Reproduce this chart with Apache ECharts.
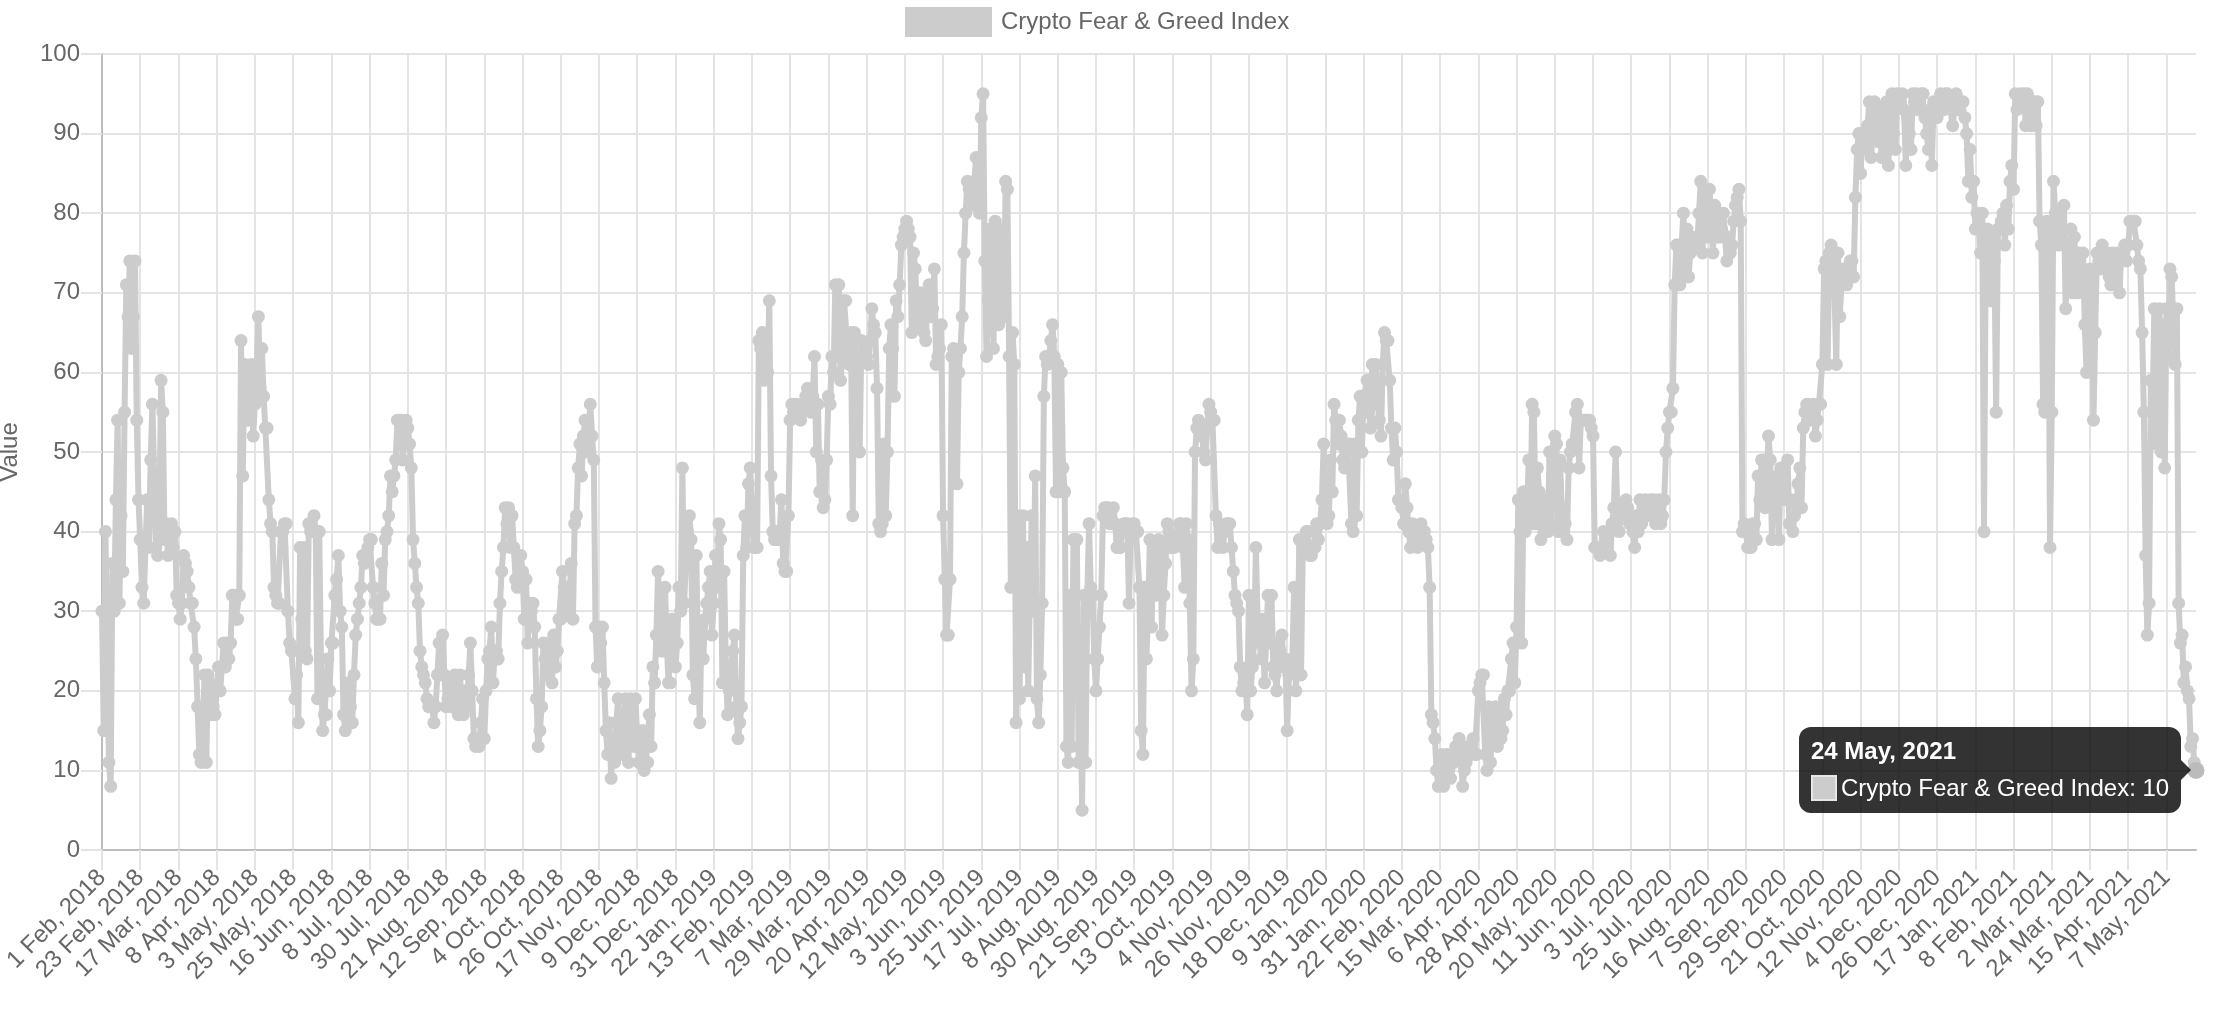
<!DOCTYPE html>
<html>
<head>
<meta charset="utf-8">
<title>Crypto Fear &amp; Greed Index</title>
<script src="https://cdn.jsdelivr.net/npm/echarts@6.0.0/dist/echarts.min.js"></script>
<style>
html, body { margin: 0; padding: 0; background: #fff; }
#chart { width: 2226px; height: 1022px; }
</style>
</head>
<body>
<div id="chart"></div>
<script>
// 数据：每日指数（2018-02-01 ~ 2021-05-24），按年份分组
var seriesName = 'Crypto Fear & Greed Index';
var startDate = '2018-02-01';
var endDate = '2021-05-24';
var missingDates = ['2018-04-14', '2018-04-15', '2018-04-16']; // 源数据缺失的日期
var monthNames = ['Jan', 'Feb', 'Mar', 'Apr', 'May', 'Jun', 'Jul', 'Aug', 'Sep', 'Oct', 'Nov', 'Dec'];

var values2018 = [
	30,15,40,24,11,8,36,30,44,54,31,42,35,55,71,67,74,63,67,74,
	54,44,39,33,31,38,44,38,49,56,47,38,37,41,59,55,39,41,37,40,
	41,38,40,32,31,29,31,37,36,35,33,31,31,28,24,18,12,11,15,22,
	11,22,21,17,18,17,20,23,20,23,26,23,26,24,26,32,32,29,29,32,
	64,47,61,58,54,57,61,52,56,60,67,58,63,57,53,53,44,41,40,33,
	32,31,31,40,40,41,41,30,26,25,25,19,22,16,38,29,38,25,24,41,
	40,40,42,40,19,40,24,15,17,17,24,20,26,26,32,34,37,30,28,17,
	15,18,21,18,16,22,27,29,31,33,37,36,37,38,39,39,33,31,29,29,
	29,36,32,39,40,42,47,45,47,49,54,54,54,49,51,54,53,51,48,39,
	36,33,31,25,23,22,21,19,18,18,18,16,18,22,26,22,27,22,18,19,
	21,18,18,22,19,17,22,18,17,20,18,22,26,20,14,13,14,13,16,19,
	14,20,24,25,28,21,25,25,24,31,35,38,43,41,43,38,42,38,34,33,
	34,37,35,29,34,26,31,30,31,28,19,13,15,18,26,24,22,26,26,21,
	27,23,25,29,29,35,33,30,33,32,36,29,41,42,48,51,47,52,54,50,
	52,56,52,49,28,23,28,26,28,21,15,12,16,9,14,11,16,19,14,12,
	15,19,14,11,19,14,13,19,14,11,13,15,10,11,11,17,13,23,21,27,
	35,27,25,25,33,26,21,21,29,26,23
];

var values2019 = [
	26,33,30,48,31,36,40,42,39,22, 19,37,24,16,28,24,29,31,33,35,
	27,31,37,33,41,39,21,35,23,17, 20,23,25,27,18,14,16,18,37,42,
	38,46,48,43,38,38,38,64,63,65, 59,63,60,69,47,40,39,40,39,40,
	44,36,35,35,42,54,56,55,56,56, 55,54,55,56,57,58,56,55,57,62,
	50,56,45,49,43,44,49,57,56,62, 60,71,62,71,59,62,69,69,63,61,
	65,42,65,59,62,50,64,62,63,62, 61,64,68,66,65,58,41,40,41,51,
	42,50,63,66,63,57,69,67,71,76, 77,78,79,78,77,65,75,73,67,66,
	70,67,65,64,69,71,67,68,73,61, 62,63,66,42,34,27,27,34,62,63,
	60,46,60,63,67,75,80,84,83,81, 82,84,87,83,80,92,95,74,62,69,
	78,74,63,79,70,66,78,75,67,84, 83,62,33,65,61,16,42,19,35,42,
	23,38,20,33,42,30,47,19,16,22, 31,57,62,61,62,64,66,62,45,61,
	45,60,48,45,13,11,32,13,39,32, 39,11,25,5,32,11,32,41,33,32,
	24,20,24,28,32,42,43,43,43,41, 41,43,41,38,38,38,40,41,41,41,
	31,40,41,41,40,40,33,15,12,33, 24,30,39,28,38,32,38,39,38,27,
	32,36,41,40,38,38,38,39,39,41, 41,38,33,41,39,31,20,24,50,53,
	54,53,52,50,49,53,56,55,54,54, 42,38,41,40,38,40,41,41,41,38,
	35,32,31,30,23,20,21,22,17,32, 20,23,26,38,29,27,24,29,21,27,
	32,26,32,23,22,20,26,25,27,23, 24,15,22,23,24,33,20,25,39,22,
	38,39,40,40,37
];

var values2020 = [
	37,38,38,41,39,41,44,51,43,41, 42,49,45,56,54,51,54,52,49,48,
	50,51,51,41,40,51,42,54,57,50, 57,57,59,55,53,61,56,61,57,54,
	52,61,65,64,64,59,53,49,53,50, 44,44,43,41,46,43,40,38,41,40,
	39,38,40,41,39,40,39,38,33,17, 16,14,10,8,11,12,8,10,12,10,
	9,12,11,13,12,14,12,8,10,11, 13,12,13,14,12,12,20,21,22,22,
	12,10,18,11,16,17,18,13,17,14, 15,19,17,20,20,24,26,21,28,44,
	40,26,45,40,42,49,41,56,55,41, 48,45,39,44,42,44,40,50,41,49,
	52,51,40,49,43,41,41,39,48,50, 51,51,55,56,48,54,54,54,54,54,
	54,53,52,38,38,38,37,38,40,39, 38,40,37,41,43,50,43,40,42,43,
	43,44,43,41,41,40,38,42,40,44, 41,43,44,42,43,44,43,44,41,42,
	44,41,42,44,50,53,55,55,58,71, 76,76,71,76,80,73,78,72,75,77,
	76,76,76,80,84,75,82,79,77,83, 80,75,81,77,80,77,78,80,77,74,
	77,75,76,79,81,82,83,79,40,41, 40,38,38,38,41,41,39,47,44,49,
	49,43,47,52,49,39,46,43,47,39, 48,45,48,44,49,41,44,40,42,43,
	46,48,43,53,55,56,56,54,55,56, 52,54,56,56,61,73,74,61,75,76,
	72,70,61,75,67,71,73,72,71,73, 74,74,72,82,88,90,85,90,90,88,
	91,94,87,90,94,92,89,93,87,90, 92,94,86,93,95,90,88,95,94,94,
	95,93,86,92,90,88,95,94,95,93, 94,95,95,92,90,88,93,86,94,93,
	92,94,95,93,93,95
];

var values2021 = [
	95,94,94,91,93,95,94,93,94,94, 92,90,84,88,82,84,78,80,79,75,
	80,40,75,78,73,69,77,74,55,78, 78,79,80,76,81,78,84,86,83,95,
	93,94,95,94,95,91,95,94,91,93, 94,91,94,79,76,56,55,79,78,38,
	55,84,80,78,76,80,78,81,68,76, 72,78,70,77,73,70,75,73,75,66,
	60,65,73,72,54,65,75,74,73,76, 74,75,75,72,71,75,73,71,75,70,
	75,75,76,74,76,79,79,79,79,76, 74,73,65,55,37,27,31,59,55,68,
	51,62,68,50,66,48,68,62,73,72, 66,61,68,31,26,27,21,23,20,19,
	13,14,11,10
];

var FONT = '"Liberation Sans", Arial, Helvetica, sans-serif';
var GRID_COLOR = '#e4e4e4';
var AXIS_COLOR = '#bdbdbd';

// 生成日期类目，如 "1 Feb, 2018"
function buildDates() {
	var list = [];
	var d = new Date(startDate + 'T00:00:00Z');
	var end = new Date(endDate + 'T00:00:00Z');
	while (d <= end) {
		var iso = d.toISOString().slice(0, 10);
		if (missingDates.indexOf(iso) < 0) {
			list.push(d.getUTCDate() + ' ' + monthNames[d.getUTCMonth()] + ', ' + d.getUTCFullYear());
		}
		d.setUTCDate(d.getUTCDate() + 1);
	}
	return list;
}

var dates = buildDates();
var values = values2018.concat(values2019, values2020, values2021);
if (dates.length !== values.length) {
	throw new Error('length mismatch: ' + dates.length + ' dates vs ' + values.length + ' values');
}
var lastIndex = values.length - 1;

var myChart = echarts.init(document.getElementById('chart'));
var option = {
	animation: false,
	textStyle: { fontFamily: FONT },
	legend: {
		top: 2,
		left: 900,
		selectedMode: false,
		itemWidth: 87,
		itemHeight: 30,
		data: [{ name: seriesName, icon: 'rect', itemStyle: { color: '#cccccc', borderWidth: 0 } }],
		textStyle: { color: '#666', fontSize: 24, fontFamily: FONT, padding: [0, 0, 0, 4] }
	},
	// 固定绘图区，不让轴名挤压网格
	grid: { left: 102, right: 30, top: 54, bottom: 172, outerBoundsMode: 'none' },
	tooltip: {
		trigger: 'item',
		triggerOn: 'none',
		alwaysShowContent: true,
		transitionDuration: 0,
		backgroundColor: 'rgba(0,0,0,0.8)',
		borderWidth: 0,
		padding: [12, 12],
		extraCssText: 'border-radius:12px;box-shadow:none;',
		textStyle: { color: '#fff', fontSize: 24, fontFamily: FONT },
		position: function(point, params, dom, rect, size) {
			// 放在点的左侧，垂直居中
			return [point[0] - size.contentSize[0] - 15, point[1] - size.contentSize[1] / 2];
		},
		formatter: function(p) {
			return '<div style="font-weight:bold;line-height:24px;margin-bottom:12px">' + p.name + '</div>'
				+ '<div style="line-height:26px;white-space:nowrap">'
				+ '<span style="display:inline-block;vertical-align:top;width:26px;height:26px;box-sizing:border-box;border:2px solid #e6e6e6;background:#cccccc;margin-right:4px"></span>'
				+ p.seriesName + ': ' + p.value + '</div>'
				+ '<div style="position:absolute;right:-10px;top:50%;margin-top:-10px;width:0;height:0;border-top:10px solid transparent;border-bottom:10px solid transparent;border-left:10px solid rgba(0,0,0,0.8)"></div>';
		}
	},
	xAxis: {
		type: 'category',
		data: dates,
		boundaryGap: false,
		axisLine: { lineStyle: { color: AXIS_COLOR, width: 2 } },
		axisTick: { show: true, interval: 21, length: 20, lineStyle: { color: GRID_COLOR, width: 2 } },
		axisLabel: { interval: 21, rotate: 45, color: '#666', fontSize: 24, margin: 24, fontFamily: FONT },
		splitLine: { show: true, interval: 21, lineStyle: { color: GRID_COLOR, width: 2 } }
	},
	yAxis: {
		type: 'value',
		min: 0,
		max: 100,
		interval: 10,
		name: 'Value',
		nameLocation: 'middle',
		nameGap: 80,
		nameTextStyle: { color: '#666', fontSize: 24, fontFamily: FONT },
		axisLine: { show: true, lineStyle: { color: AXIS_COLOR, width: 2 } },
		axisTick: { show: true, length: 21, lineStyle: { color: GRID_COLOR, width: 2 } },
		axisLabel: { color: '#666', fontSize: 24, margin: 22, fontFamily: FONT },
		splitLine: { lineStyle: { color: GRID_COLOR, width: 2 } }
	},
	series: [{
		name: seriesName,
		type: 'line',
		data: values,
		symbol: 'circle',
		symbolSize: 13,
		showSymbol: true,
		showAllSymbol: true,
		lineStyle: { color: '#cccccc', width: 6 },
		itemStyle: { color: '#cccccc' },
		emphasis: { disabled: true },
		markPoint: {
			silent: true,
			symbol: 'circle',
			symbolSize: 17,
			itemStyle: { color: '#bbbbbb' },
			label: { show: false },
			data: [{ coord: [dates[lastIndex], values[lastIndex]] }]
		}
	}]
};
myChart.setOption(option);

// 坐标原点处的轴线延伸（与刻度同长）
var origin = myChart.convertToPixel({ gridIndex: 0 }, [0, 0]);
myChart.setOption({
	graphic: [
		{ type: 'line', silent: true, shape: { x1: origin[0] - 21, y1: origin[1], x2: origin[0], y2: origin[1] }, style: { stroke: AXIS_COLOR, lineWidth: 2 } },
		{ type: 'line', silent: true, shape: { x1: origin[0], y1: origin[1], x2: origin[0], y2: origin[1] + 20 }, style: { stroke: AXIS_COLOR, lineWidth: 2 } }
	]
});

// 显示最后一天的提示框
myChart.dispatchAction({ type: 'showTip', seriesIndex: 0, dataIndex: lastIndex });
</script>
</body>
</html>
